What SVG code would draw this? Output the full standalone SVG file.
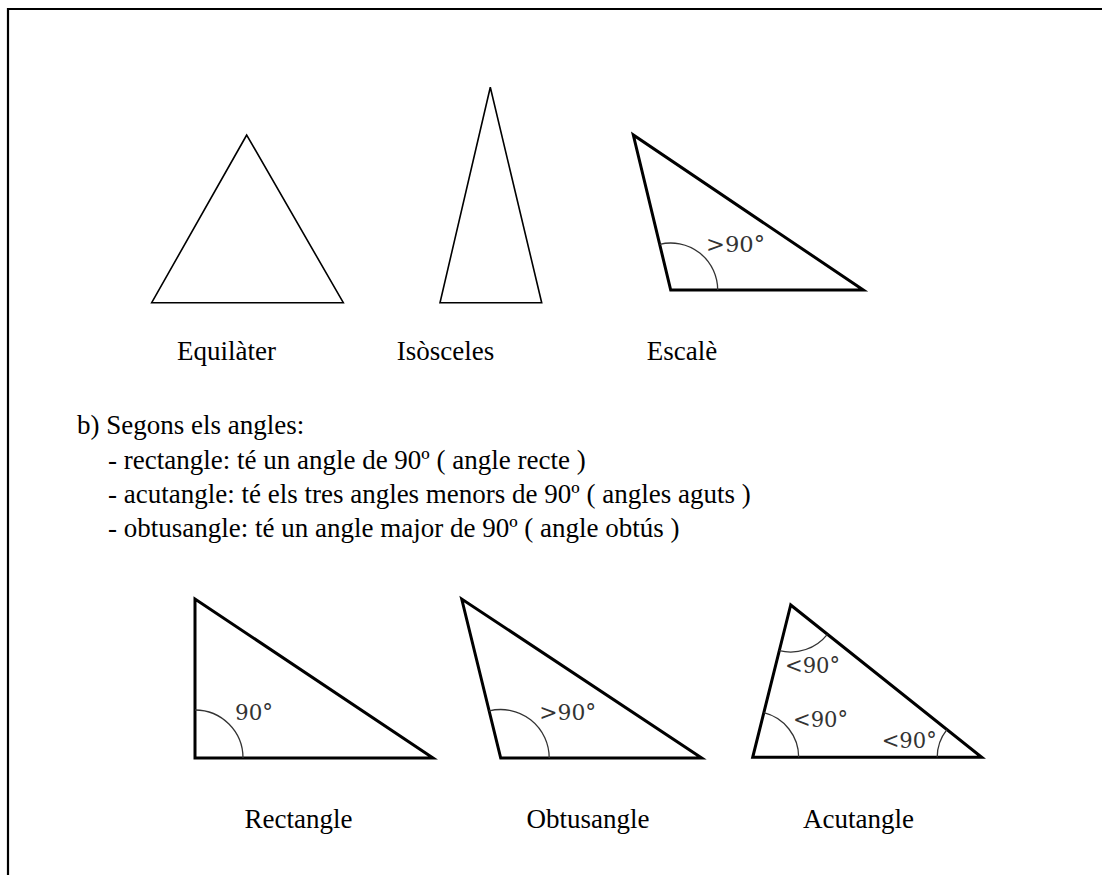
<svg xmlns="http://www.w3.org/2000/svg" width="1102" height="875" viewBox="0 0 1102 875">
<style>
.txt{font-size:27px;fill:#000}
.thin{fill:none;stroke:#000;stroke-width:1.6;stroke-linejoin:miter}
.thick{fill:none;stroke:#000;stroke-width:3;stroke-linejoin:miter}
.arc{fill:none;stroke:#333;stroke-width:1.3}
.ang{font-size:22px;fill:#333}
</style>
<rect x="0" y="0" width="1102" height="875" fill="#fff"/>
<path d="M8 880 V9 H1110" fill="none" stroke="#000" stroke-width="2.2"/>

<g id="equilater">
<polygon class="thin" points="246.7,135 151.7,302.7 343.3,302.7"/>
<text class="txt" font-family="Liberation Serif, serif" x="226.5" y="360" text-anchor="middle">Equilàter</text>
</g>
<g id="isosceles">
<polygon class="thin" points="490.3,87.3 440,302.7 541.7,302.7"/>
<text class="txt" font-family="Liberation Serif, serif" x="445.5" y="360" text-anchor="middle">Isòsceles</text>
</g>
<g id="escale">
<polygon class="thick" points="633.3,135 670.7,290 863.3,290"/>
<path class="arc" d="M717.7 290 A47 47 0 0 0 659.7 244.3"/>
<text class="ang" font-family="DejaVu Serif, serif" x="706" y="252" textLength="59" lengthAdjust="spacingAndGlyphs">&gt;90°</text>
<text class="txt" font-family="Liberation Serif, serif" x="682" y="360" text-anchor="middle">Escalè</text>
</g>

<g id="text-angles" font-family="Liberation Serif, serif">
<text class="txt" x="77" y="434">b) Segons els angles:</text>
<text class="txt" x="108" y="469">- rectangle: té un angle de 90º ( angle recte )</text>
<text class="txt" x="108" y="503">- acutangle: té els tres angles menors de 90º ( angles aguts )</text>
<text class="txt" x="108" y="537">- obtusangle: té un angle major de 90º ( angle obtús )</text>
</g>

<g id="rectangle">
<polygon class="thick" points="195,599 195,758 433,758"/>
<path class="arc" d="M243 758 A48 48 0 0 0 195 710"/>
<text class="ang" font-family="DejaVu Serif, serif" x="235" y="720" textLength="38" lengthAdjust="spacingAndGlyphs">90°</text>
<text class="txt" font-family="Liberation Serif, serif" x="298.5" y="828" text-anchor="middle">Rectangle</text>
</g>
<g id="obtusangle">
<polygon class="thick" points="461.7,599 500.7,758 701.7,758"/>
<path class="arc" d="M549.2 758 A48.5 48.5 0 0 0 489.1 710.9"/>
<text class="ang" font-family="DejaVu Serif, serif" x="539.3" y="720" textLength="57" lengthAdjust="spacingAndGlyphs">&gt;90°</text>
<text class="txt" font-family="Liberation Serif, serif" x="588" y="828" text-anchor="middle">Obtusangle</text>
</g>
<g id="acutangle">
<polygon class="thick" points="790.7,605 752.7,757.3 981.7,757.3"/>
<path class="arc" d="M779.3 650.6 A47 47 0 0 0 827.4 634.3"/>
<path class="arc" d="M798.7 757.3 A46 46 0 0 0 763.8 712.7"/>
<path class="arc" d="M937.2 757.3 A44.5 44.5 0 0 1 946.9 729.6"/>
<text class="ang" font-family="DejaVu Serif, serif" x="785" y="673" textLength="55" lengthAdjust="spacingAndGlyphs">&lt;90°</text>
<text class="ang" font-family="DejaVu Serif, serif" x="793" y="727" textLength="55" lengthAdjust="spacingAndGlyphs">&lt;90°</text>
<text class="ang" font-family="DejaVu Serif, serif" x="881.7" y="748" textLength="55" lengthAdjust="spacingAndGlyphs">&lt;90°</text>
<text class="txt" font-family="Liberation Serif, serif" x="858.5" y="828" text-anchor="middle">Acutangle</text>
</g>
</svg>
